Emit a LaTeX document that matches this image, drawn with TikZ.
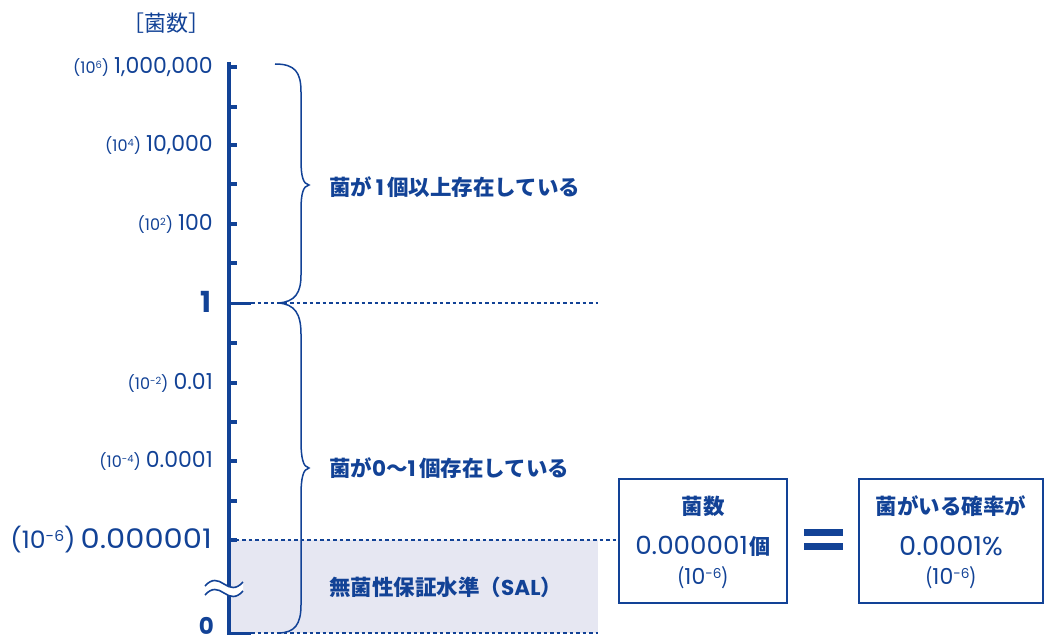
\documentclass[tikz,border=0pt]{standalone}
\usepackage{fontspec}
\usepackage{graphicx}
\setmainfont{Noto Sans CJK JP}
\newfontfamily\pop{Poppins}
\definecolor{sblue}{RGB}{18,66,150}
\definecolor{sshade}{RGB}{230,231,242}
\newcommand\ex[1]{\raisebox{0.55ex}{\scalebox{0.62}{#1}}}
\newcommand\fsz[1]{\fontsize{#1}{#1}\selectfont}
\newcommand\wnum[2]{\scalebox{#1}[1]{#2}}
\tikzset{
  axlab/.style={anchor=east, text=sblue, inner sep=0pt},
  jplab/.style={anchor=west, text=sblue, inner sep=0pt, font=\fsz{21.5}\bfseries},
  brc/.style={draw=sblue, line width=1.5pt},
  dots/.style={draw=sblue, line width=1.6pt, dash pattern=on 3.5pt off 3pt},
  tickm/.style={draw=sblue, line width=3.5pt},
  boxm/.style={draw=sblue, line width=1.5pt, minimum width=168pt, minimum height=124pt, inner sep=0pt},
  boxt/.style={text=sblue, inner sep=0pt, anchor=center}
}
\begin{document}
\begin{tikzpicture}[x=1pt,y=-1pt]
\useasboundingbox (0,0) rectangle (1045,642);
% shaded SAL region
\fill[sshade] (229,540) rectangle (598,633);
% axis coordinates
\coordinate (atop) at (229,62);
\coordinate (abot) at (229,634.5);
\coordinate (one) at (229,303);
\coordinate (sal) at (229,540);
\coordinate (zero) at (229,633);
\coordinate (oneE) at (251,303);
\coordinate (zeroE) at (251,633);
\coordinate (oneR) at (598,303);
\coordinate (zeroR) at (598,633);
% boxes
\node[boxm] (b1) at (703,541) {};
\node[boxm, minimum width=184pt] (b2) at (951,541) {};
% dotted guide lines
\draw[dots] (oneE) -- (oneR);
\draw[dots] (zeroE) -- (zeroR);
\draw[dots] (sal) -- (b1.west |- sal);
% axis
\draw[sblue, line width=3.5pt] (atop) -- (abot);
\foreach \y in {67,107,145,184,224,263,343,383,422,461,501,540}
  \draw[tickm] (227.5,\y) -- (237,\y);
\draw[sblue, line width=3pt] (one) -- (oneE);
\draw[sblue, line width=3pt] (227.5,633) -- (zeroE);
% break mark
\fill[white] (205,586) .. controls (212,578) and (218,580) .. (224,584)
   .. controls (230,588) and (236,590) .. (243,582)
   -- (243,591) .. controls (236,599) and (230,597) .. (224,593)
   .. controls (218,589) and (212,587) .. (205,595) -- cycle;
\draw[sblue, line width=1.6pt] (205,586) .. controls (212,578) and (218,580) .. (224,584)
   .. controls (230,588) and (236,590) .. (243,582);
\draw[sblue, line width=1.6pt] (205,595) .. controls (212,587) and (218,589) .. (224,593)
   .. controls (230,597) and (236,599) .. (243,591);
% braces
\draw[brc] (275,64) .. controls (295,64) and (301,72) .. (301,92) -- (301,160)
  .. controls (301,176) and (303,184) .. (309,185)
  .. controls (303,186) and (301,194) .. (301,210) -- (301,275)
  .. controls (301,293) and (295,302) .. (278,303);
\draw[brc] (278,303) .. controls (295,304) and (301,314) .. (301,334) -- (301,440)
  .. controls (301,458) and (303,467) .. (309,468)
  .. controls (303,469) and (301,478) .. (301,496) -- (301,605)
  .. controls (301,624) and (295,633) .. (278,633);
% title
\node[text=sblue, inner sep=0pt, font=\fsz{22}] (title) at (166,23) {［菌数］};
% axis labels
\node[axlab] (l6) at (213,67) {{\fsz{16}\pop(10\ex{6})}\hspace{5pt}{\fsz{22}\pop 1,000,000}};
\node[axlab] (l4) at (213,145) {{\fsz{16}\pop(10\ex{4})}\hspace{5pt}{\fsz{22}\pop 10,000}};
\node[axlab] (l2) at (213,224) {{\fsz{16}\pop(10\ex{2})}\hspace{5pt}{\fsz{22}\pop 100}};
\node[axlab] (l0) at (212,302) {\fsz{29}\pop\bfseries 1};
\node[axlab] (lm2) at (213,383) {{\fsz{16}\pop(10\ex{-2})}\hspace{5pt}{\fsz{22}\pop 0.01}};
\node[axlab] (lm4) at (213,461) {{\fsz{16}\pop(10\ex{-4})}\hspace{5pt}{\fsz{22}\pop 0.0001}};
\node[axlab] (lm6) at (212,540) {{\fsz{24}\pop\wnum{1.05}{(10\ex{-6})}}\hspace{5pt}{\fsz{27}\pop\wnum{1.13}{0.000001}}};
\node[axlab] (lz) at (214,626) {\fsz{23}\pop\bfseries 0};
% brace labels
\node[jplab] (t1) at (329,187) {菌が{\pop\bfseries\,1\,}個以上存在している};
\node[jplab] (t2) at (329,468) {菌が{\pop\bfseries 0}～{\pop\bfseries 1\,}個存在している};
\node[jplab] (t3) at (329,587) {無菌性保証水準（{\pop\bfseries SAL}）};
% box 1 text
\node[boxt, font=\fsz{21.5}\bfseries] (b1a) at (703,506) {菌数};
\node[boxt] (b1b) at (703,546) {{\fsz{25}\pop\wnum{1.05}{0.000001}}\,{\fsz{21}\bfseries 個}};
\node[boxt, font=\fsz{22}] (b1c) at (703,578) {({\pop 10\ex{-6}})};
% equals
\fill[sblue] (804,529) rectangle (843,536);
\fill[sblue] (804,543) rectangle (843,550);
% box 2 text
\node[boxt, font=\fsz{21.5}\bfseries] (b2a) at (951,506) {菌がいる確率が};
\node[boxt, font=\fsz{26}\pop] (b2b) at (951,546) {\wnum{1.05}{0.0001\%}};
\node[boxt, font=\fsz{22}] (b2c) at (951,578) {({\pop 10\ex{-6}})};
\end{tikzpicture}
\end{document}
